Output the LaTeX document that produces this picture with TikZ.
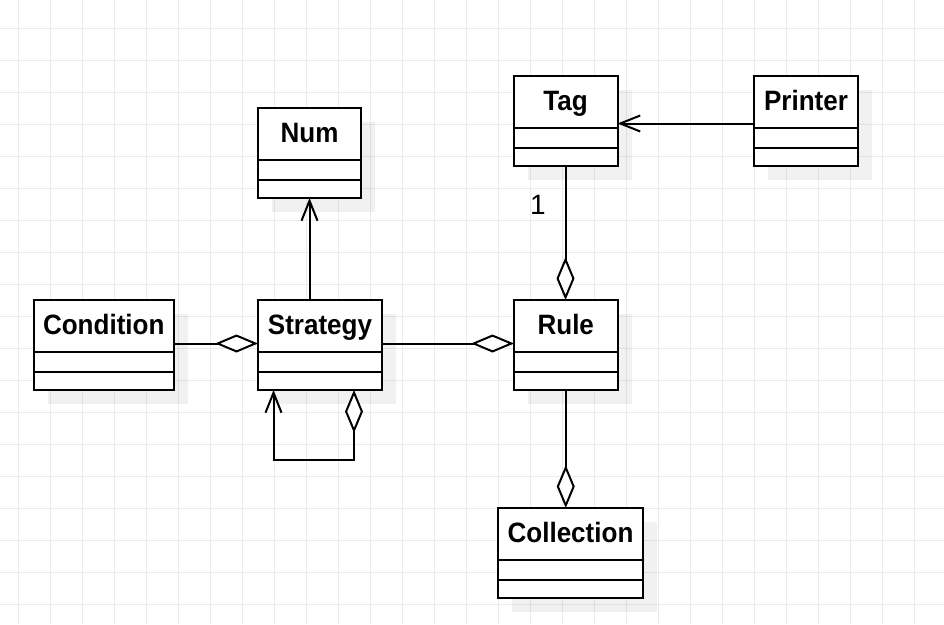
\documentclass[tikz,border=0pt]{standalone}
\usepackage{fontspec}
\setmainfont{Liberation Sans}
\newfontfamily\clsfont{Liberation Sans}[FakeStretch=0.93]
\usetikzlibrary{arrows.meta,calc}
\definecolor{gridc}{RGB}{235,235,235}
\tikzset{
  classbox/.style={draw=black, fill=white, line width=2pt, rectangle, inner sep=0pt, outer sep=0pt, minimum height=90pt, anchor=north west},
  clstext/.style={font=\clsfont\bfseries\fontsize{28}{32}\selectfont, anchor=base, inner sep=0pt},
  shadowbox/.style={fill=black, fill opacity=0.055, draw=none},
  divline/.style={line width=2pt},
  conn/.style={line width=2pt},
  aggr/.tip={Diamond[open, fill=white, length=43pt, width=18pt, line width=2pt]},
  openarr/.tip={Straight Barb[length=20pt, width=16pt, line width=2pt]},
  multlabel/.style={font=\fontsize{28}{32}\selectfont, inner sep=0pt}
}
\newcommand{\umlcls}[5]{% name, x, y, width, text
  \fill[shadowbox] (#2+14,#3+14) rectangle (#2+#4+14,#3+104);
  \node[classbox, minimum width=#4pt] (#1) at (#2,#3) {};
  \node[clstext] (#1T) at ($(#1.north)+(0,34)$) {#5};
  \draw[divline] ($(#1.north west)+(0,52)$) -- ($(#1.north east)+(0,52)$);
  \draw[divline] ($(#1.north west)+(0,72)$) -- ($(#1.north east)+(0,72)$);
}
\begin{document}
\begin{tikzpicture}[x=1pt,y=-1pt]
\useasboundingbox (0,0) rectangle (944,624);
\fill[white] (0,0) rectangle (944,624);
\foreach \gx in {18,50,...,946} \draw[gridc, line width=1pt] (\gx,0) -- (\gx,624);
\foreach \gy in {28,60,...,604} \draw[gridc, line width=1pt] (0,\gy) -- (944,\gy);

\umlcls{Num}{258}{108}{103}{Num}
\umlcls{Tag}{513.5}{76}{104}{Tag}
\umlcls{Printer}{754}{76}{104}{Printer}
\umlcls{Condition}{34}{300}{139.5}{Condition}
\umlcls{Strategy}{258}{300}{124}{Strategy}
\umlcls{Rule}{514}{300}{103.5}{Rule}
\umlcls{Collection}{498}{508}{145}{Collection}

% Printer -> Tag
\draw[conn, -openarr] ([yshift=-2.5pt]Printer.west) -- ([yshift=-2.5pt]Tag.east);
% Strategy -> Num
\draw[conn, -openarr] (Num.south |- Strategy.north) -- (Num.south);
% Condition - Strategy aggregation
\draw[conn, -aggr] ([yshift=1.5pt]Condition.east) -- ([yshift=1.5pt]Strategy.west);
% Strategy - Rule aggregation
\draw[conn, -aggr] ([yshift=1.5pt]Strategy.east) -- ([yshift=1.5pt]Rule.west);
% Tag - Rule aggregation
\draw[conn, -aggr] (Tag.south) -- (Tag.south |- Rule.north);
\node[multlabel] (mult1) at (538,205) {1};
% Collection - Rule aggregation
\draw[conn, -aggr] (Rule.south) -- (Rule.south |- Collection.north);
% self loop
\coordinate (loopL) at (273.5,460);
\coordinate (loopR) at (354,460);
\draw[conn, openarr-aggr] (loopL |- Strategy.south) -- (loopL) -- (loopR) -- (loopR |- Strategy.south);
\end{tikzpicture}
\end{document}
